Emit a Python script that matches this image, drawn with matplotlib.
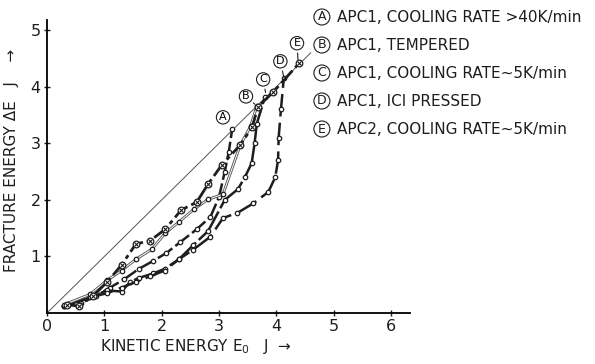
import matplotlib.pyplot as plt

plt.rcParams['font.family'] = ['DejaVu Sans']

# curve data: kinetic energy E0 (J) and fracture energy dE (J)
a_x = [0.3, 0.6, 0.85, 1.1, 1.35, 1.6, 1.85, 2.08, 2.32, 2.61, 2.85, 3.0, 3.1, 3.17, 3.23]
a_y = [0.12, 0.18, 0.3, 0.45, 0.6, 0.78, 0.92, 1.06, 1.25, 1.48, 1.7, 2.05, 2.5, 2.85, 3.25]

b_x = [0.3, 0.75, 1.05, 1.3, 1.55, 1.83, 2.06, 2.3, 2.57, 2.81, 3.07, 3.37, 3.55, 3.66]
b_y = [0.15, 0.33, 0.58, 0.75, 0.95, 1.13, 1.41, 1.61, 1.84, 2.01, 2.1, 2.97, 3.3, 3.66]

c_x = [0.3, 0.5, 0.8, 1.05, 1.3, 1.45, 1.6, 1.85, 2.05, 2.3, 2.55, 2.81, 3.1, 3.33, 3.45,
       3.57, 3.62, 3.66, 3.8]
c_y = [0.12, 0.18, 0.3, 0.4, 0.38, 0.55, 0.62, 0.7, 0.78, 0.95, 1.2, 1.45, 2.0, 2.19, 2.4,
       2.65, 3.0, 3.35, 3.82]

d_x = [0.3, 0.75, 1.05, 1.3, 1.55, 1.8, 2.05, 2.3, 2.55, 2.85, 3.07, 3.32, 3.6, 3.86, 3.98,
       4.03, 4.04, 4.08, 4.13]
d_y = [0.12, 0.28, 0.35, 0.45, 0.55, 0.65, 0.75, 0.95, 1.12, 1.35, 1.68, 1.77, 1.94, 2.14, 2.4,
       2.7, 3.1, 3.6, 4.15]

e_x = [0.35, 0.55, 0.8, 1.05, 1.3, 1.55, 1.8, 2.06, 2.34, 2.61, 2.81, 3.05, 3.37, 3.58, 3.68,
       3.94, 4.4]
e_y = [0.15, 0.12, 0.3, 0.55, 0.85, 1.22, 1.28, 1.48, 1.82, 1.96, 2.28, 2.62, 2.97, 3.29, 3.65,
       3.9, 4.42]

diag = [0, 4.6]

legend_labels = ['A', 'B', 'C', 'D', 'E']
legend_texts = ['APC1, COOLING RATE >40K/min',
                'APC1, TEMPERED',
                'APC1, COOLING RATE~5K/min',
                'APC1, ICI PRESSED',
                'APC2, COOLING RATE~5K/min']

fig = plt.figure(figsize=(5.95, 3.64), dpi=100)
ax = fig.add_axes([0.079, 0.14, 0.61, 0.805])

ink = '#1e1e1e'
mk = dict(marker='o', markersize=3.2, markerfacecolor='white', markeredgecolor=ink,
          markeredgewidth=0.9)

# reference line dE = E0
ax.plot(diag, diag, color='#555555', lw=0.7)

# A: dashed
ax.plot(a_x, a_y, color=ink, lw=1.8, dashes=(7, 1.5), **mk)
# B: thin double line
ax.plot(b_x, b_y, color='#555555', lw=2.0, zorder=3)
ax.plot(b_x, b_y, color='white', lw=0.7, zorder=3)
ax.plot(b_x, b_y, ls='none', zorder=4, **mk)
# C: thick, long dashes
ax.plot(c_x, c_y, color=ink, lw=1.8, dashes=(14, 1.5), **mk)
# D: dashed
ax.plot(d_x, d_y, color=ink, lw=1.8, dashes=(9, 2.5), **mk)
# E: dash-dot, crossed circles
ax.plot(e_x, e_y, color=ink, lw=2.0, dashes=(6, 1.5, 1.5, 1.5), marker='o', markersize=4.8,
        markerfacecolor='white', markeredgecolor=ink, markeredgewidth=0.9, zorder=5)
ax.plot(e_x, e_y, ls='none', marker='x', markersize=3.0, markeredgecolor=ink,
        markeredgewidth=0.8, zorder=6)

# circled letters on the curves
circ = dict(boxstyle='circle,pad=0.15', fc='white', ec=ink, lw=0.8)
ax.text(3.07, 3.46, 'A', fontsize=8, ha='center', va='center', bbox=circ)
ax.annotate('B', xy=(3.66, 3.66), xytext=(3.47, 3.83), fontsize=8, ha='center', va='center',
            bbox=circ, arrowprops=dict(arrowstyle='-', color=ink, lw=0.8))
ax.annotate('C', xy=(3.82, 3.85), xytext=(3.77, 4.13), fontsize=8, ha='center', va='center',
            bbox=circ, arrowprops=dict(arrowstyle='-', color=ink, lw=0.8))
ax.annotate('D', xy=(4.14, 4.12), xytext=(4.07, 4.45), fontsize=8, ha='center', va='center',
            bbox=circ, arrowprops=dict(arrowstyle='-', color=ink, lw=0.8))
ax.annotate('E', xy=(4.38, 4.43), xytext=(4.36, 4.77), fontsize=8, ha='center', va='center',
            bbox=circ, arrowprops=dict(arrowstyle='-', color=ink, lw=0.8))

ax.set_xlim(0, 6.33)
ax.set_ylim(0, 5.18)
ax.set_xticks([0, 1, 2, 3, 4, 5, 6])
ax.set_yticks([1, 2, 3, 4, 5])
ax.spines['top'].set_visible(False)
ax.spines['right'].set_visible(False)
ax.spines['left'].set_linewidth(1.3)
ax.spines['bottom'].set_linewidth(1.3)
ax.tick_params(direction='inout', length=5, width=1, labelsize=11.5, colors=ink, pad=2)

ax.set_xlabel('KINETIC ENERGY $\\mathregular{E_0}$   J  \u2192', fontsize=11, color=ink,
              x=0.41, labelpad=2)
ax.set_ylabel('FRACTURE ENERGY \u0394E   J    \u2192', fontsize=11, color=ink,
              y=0.52, labelpad=8)

# legend as text lines
for i in range(len(legend_labels)):
    yy = 1 - (17 + 28 * i) / 364
    fig.text(0.541, yy, legend_labels[i], fontsize=9, ha='center', va='center', color=ink,
             bbox=dict(boxstyle='circle,pad=0.12', fc='white', ec=ink, lw=0.8))
    fig.text(0.566, yy, legend_texts[i], fontsize=11, ha='left', va='center', color=ink)

fig.savefig('out.png', dpi=100)
